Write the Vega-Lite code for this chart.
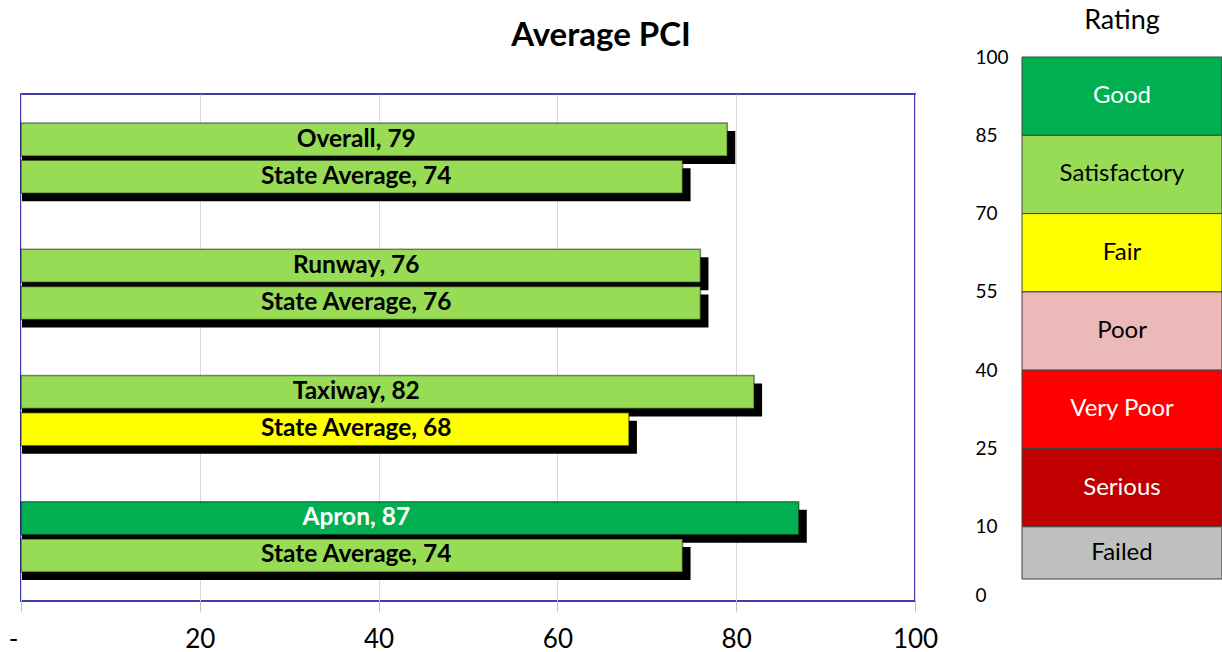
{
  "$schema": "https://vega.github.io/schema/vega-lite/v6.json",
  "padding": {"left": 7, "top": 7, "right": 0, "bottom": 0},
  "background": "white",
  "config": {"font": "Lato", "view": {"stroke": null}},
  "spacing": 36,
  "hconcat": [
    {
      "spacing": 0,
      "vconcat": [
        {
          "width": 894,
          "height": 36,
          "title": {"text": "Average PCI", "fontSize": 33, "fontWeight": "bold", "font": "Lato", "dx": 133, "offset": 4, "color": "black", "anchor": "middle"},
          "data": {"values": [{}]},
          "mark": {"type": "text", "text": ""},
          "encoding": {}
        },
        {
          "width": 894,
          "height": 507,
          "view": {"stroke": "#3c3cab", "strokeWidth": 2},
          "data": {"values": [
            {"group": "Overall", "series": "Airport", "value": 79, "rating": "Satisfactory", "label": "Overall, 79"},
            {"group": "Overall", "series": "State", "value": 74, "rating": "Satisfactory", "label": "State Average, 74"},
            {"group": "Runway", "series": "Airport", "value": 76, "rating": "Satisfactory", "label": "Runway, 76"},
            {"group": "Runway", "series": "State", "value": 76, "rating": "Satisfactory", "label": "State Average, 76"},
            {"group": "Taxiway", "series": "Airport", "value": 82, "rating": "Satisfactory", "label": "Taxiway, 82"},
            {"group": "Taxiway", "series": "State", "value": 68, "rating": "Fair", "label": "State Average,  68"},
            {"group": "Apron", "series": "Airport", "value": 87, "rating": "Good", "label": "Apron, 87"},
            {"group": "Apron", "series": "State", "value": 74, "rating": "Satisfactory", "label": "State Average,  74"}
          ]},
          "encoding": {
            "y": {"field": "group", "type": "nominal", "sort": ["Overall", "Runway", "Taxiway", "Apron"], "axis": null, "scale": {"paddingInner": 0.444, "paddingOuter": 0.23}}
          },
          "resolve": {"scale": {"yOffset": "independent"}},
          "layer": [
            {
              "mark": {"type": "bar", "color": "black", "xOffset": 8, "x2Offset": 1},
              "encoding": {
                "yOffset": {"field": "series", "type": "nominal", "sort": ["Airport", "State"], "scale": {"range": [8, 78.2], "paddingInner": 0.113, "paddingOuter": 0}},
                "x": {"field": "value", "type": "quantitative", "scale": {"domain": [0, 100]},
                  "axis": {"values": [0, 20, 40, 60, 80, 100], "title": null, "grid": true, "gridColor": "#d9d9d9", "gridWidth": 1, "domain": false, "ticks": true, "tickColor": "#bfbfbf", "tickSize": 10, "labelFontSize": 26, "labelColor": "black", "labelPadding": 15, "labelExpr": "datum.value == 0 ? '-' : datum.label", "labelFlush": false, "labelOverlap": false, "labelOffset": {"condition": {"test": "datum.value == 0", "value": -8}, "value": 0}}},
                "x2": {"datum": 0}
              }
            },
            {
              "mark": {"type": "bar", "stroke": "black", "strokeOpacity": 0.45, "strokeWidth": 1.5},
              "encoding": {
                "yOffset": {"field": "series", "type": "nominal", "sort": ["Airport", "State"], "scale": {"paddingInner": 0.113, "paddingOuter": 0}},
                "x": {"field": "value", "type": "quantitative"},
                "color": {"field": "rating", "type": "nominal", "legend": null,
                  "scale": {"domain": ["Good", "Satisfactory", "Fair", "Poor", "Very Poor", "Serious", "Failed"], "range": ["#00B050", "#98DB55", "#FFFF00", "#EBB9B7", "#FF0000", "#C00000", "#BFBFBF"]}}
              }
            },
            {
              "mark": {"type": "text", "fontSize": 24.5, "fontWeight": "bold"},
              "encoding": {
                "yOffset": {"field": "series", "type": "nominal", "sort": ["Airport", "State"], "scale": {"type": "band", "paddingInner": 0.113, "paddingOuter": 0}},
                "x": {"datum": 37.5},
                "text": {"field": "label"},
                "color": {"condition": {"test": "datum.rating == 'Good'", "value": "white"}, "value": "black"}
              }
            }
          ]
        }
      ]
    },
    {
      "width": 200,
      "height": 522,
      "title": {"text": "Rating", "fontSize": 27, "fontWeight": "normal", "offset": 13, "anchor": "middle", "color": "black"},
      "data": {"values": [
        {"rating": "Good", "lo": 85, "hi": 100},
        {"rating": "Satisfactory", "lo": 70, "hi": 85},
        {"rating": "Fair", "lo": 55, "hi": 70},
        {"rating": "Poor", "lo": 40, "hi": 55},
        {"rating": "Very Poor", "lo": 25, "hi": 40},
        {"rating": "Serious", "lo": 10, "hi": 25},
        {"rating": "Failed", "lo": 0, "hi": 10}
      ]},
      "layer": [
        {
          "mark": {"type": "rect", "stroke": "#404040", "strokeWidth": 1},
          "encoding": {
            "y": {"field": "lo", "type": "quantitative", "scale": {"domain": [0, 100]},
              "axis": {"values": [0, 10, 25, 40, 55, 70, 85, 100], "title": null, "domain": false, "ticks": false, "grid": false, "labelAlign": "left", "labelPadding": 47, "labelFontSize": 19, "labelColor": "black", "labelFlush": false, "labelOverlap": false, "labelOffset": {"condition": {"test": "datum.value == 0", "value": 16}, "value": 0}}},
            "y2": {"field": "hi"},
            "color": {"field": "rating", "type": "nominal", "legend": null,
              "scale": {"domain": ["Good", "Satisfactory", "Fair", "Poor", "Very Poor", "Serious", "Failed"], "range": ["#00B050", "#98DB55", "#FFFF00", "#EBB9B7", "#FF0000", "#C00000", "#BFBFBF"]}}
          }
        },
        {
          "transform": [{"calculate": "(datum.lo + datum.hi) / 2", "as": "mid"}],
          "mark": {"type": "text", "fontSize": 24},
          "encoding": {
            "y": {"field": "mid", "type": "quantitative"},
            "text": {"field": "rating"},
            "color": {"condition": {"test": "indexof(['Good', 'Very Poor', 'Serious'], datum.rating) >= 0", "value": "white"}, "value": "black"}
          }
        }
      ]
    }
  ]
}
